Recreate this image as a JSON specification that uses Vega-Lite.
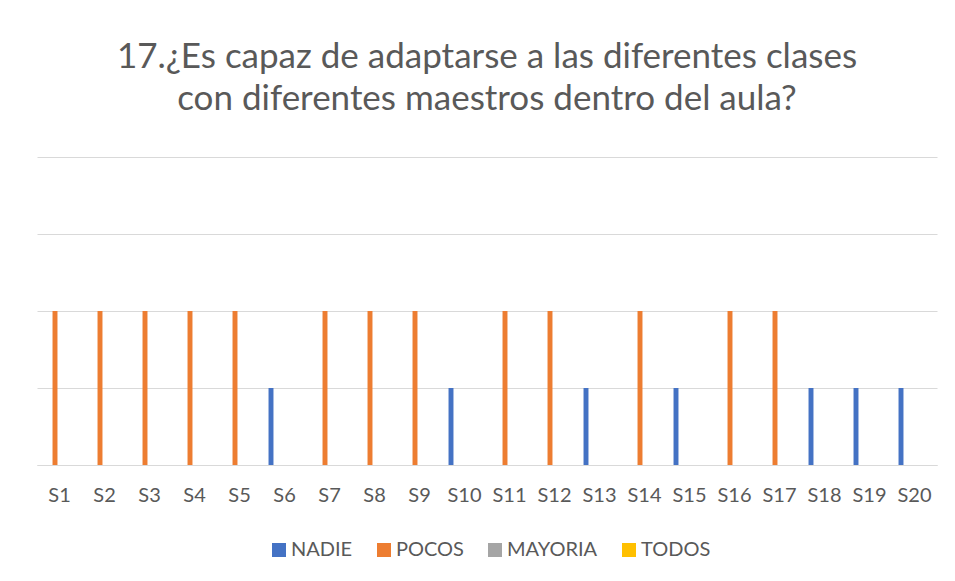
{
  "$schema": "https://vega.github.io/schema/vega-lite/v6.json",
  "width": 900,
  "height": 308,
  "autosize": {"type": "none"},
  "padding": {"left": 37, "top": 157, "right": 18, "bottom": 116},
  "background": "white",
  "title": {
    "text": ["17.¿Es capaz de adaptarse a las diferentes clases", "con diferentes maestros dentro del aula?"],
    "font": "Lato",
    "fontSize": 35,
    "fontWeight": "normal",
    "color": "#595959",
    "lineHeight": 42,
    "anchor": "middle",
    "offset": 40
  },
  "data": {
    "values": [
      {"s": "S1", "serie": "POCOS", "v": 2},
      {"s": "S2", "serie": "POCOS", "v": 2},
      {"s": "S3", "serie": "POCOS", "v": 2},
      {"s": "S4", "serie": "POCOS", "v": 2},
      {"s": "S5", "serie": "POCOS", "v": 2},
      {"s": "S6", "serie": "NADIE", "v": 1},
      {"s": "S7", "serie": "POCOS", "v": 2},
      {"s": "S8", "serie": "POCOS", "v": 2},
      {"s": "S9", "serie": "POCOS", "v": 2},
      {"s": "S10", "serie": "NADIE", "v": 1},
      {"s": "S11", "serie": "POCOS", "v": 2},
      {"s": "S12", "serie": "POCOS", "v": 2},
      {"s": "S13", "serie": "NADIE", "v": 1},
      {"s": "S14", "serie": "POCOS", "v": 2},
      {"s": "S15", "serie": "NADIE", "v": 1},
      {"s": "S16", "serie": "POCOS", "v": 2},
      {"s": "S17", "serie": "POCOS", "v": 2},
      {"s": "S18", "serie": "NADIE", "v": 1},
      {"s": "S19", "serie": "NADIE", "v": 1},
      {"s": "S20", "serie": "NADIE", "v": 1}
    ]
  },
  "mark": {"type": "bar"},
  "encoding": {
    "x": {
      "field": "s",
      "type": "nominal",
      "sort": null,
      "scale": {"paddingInner": 0.2, "paddingOuter": 0.1},
      "axis": {
        "title": null,
        "labelAngle": 0,
        "labelFont": "Lato",
        "labelFontSize": 20,
        "labelColor": "#595959",
        "labelPadding": 20,
        "ticks": false,
        "domainColor": "#d9d9d9",
        "domainWidth": 1
      }
    },
    "xOffset": {
      "field": "serie",
      "type": "nominal",
      "scale": {"domain": ["NADIE", "POCOS", "MAYORIA", "TODOS"], "paddingInner": 0.45, "paddingOuter": 0.225}
    },
    "y": {
      "field": "v",
      "type": "quantitative",
      "scale": {"domain": [0, 4]},
      "axis": {
        "title": null,
        "labels": false,
        "ticks": false,
        "domain": false,
        "tickCount": 4,
        "gridColor": "#d9d9d9",
        "gridWidth": 1
      }
    },
    "color": {
      "field": "serie",
      "type": "nominal",
      "scale": {
        "domain": ["NADIE", "POCOS", "MAYORIA", "TODOS"],
        "range": ["#4472C4", "#ED7D31", "#A5A5A5", "#FFC000"]
      },
      "legend": {
        "title": null,
        "orient": "none",
        "legendX": 232,
        "legendY": 383,
        "direction": "horizontal",
        "symbolType": "square",
        "symbolSize": 196,
        "symbolStrokeWidth": 0,
        "labelFont": "Lato",
        "labelFontSize": 20,
        "labelColor": "#595959",
        "labelOffset": 2,
        "columnPadding": 21
      }
    }
  },
  "config": {
    "view": {"stroke": null}
  }
}
